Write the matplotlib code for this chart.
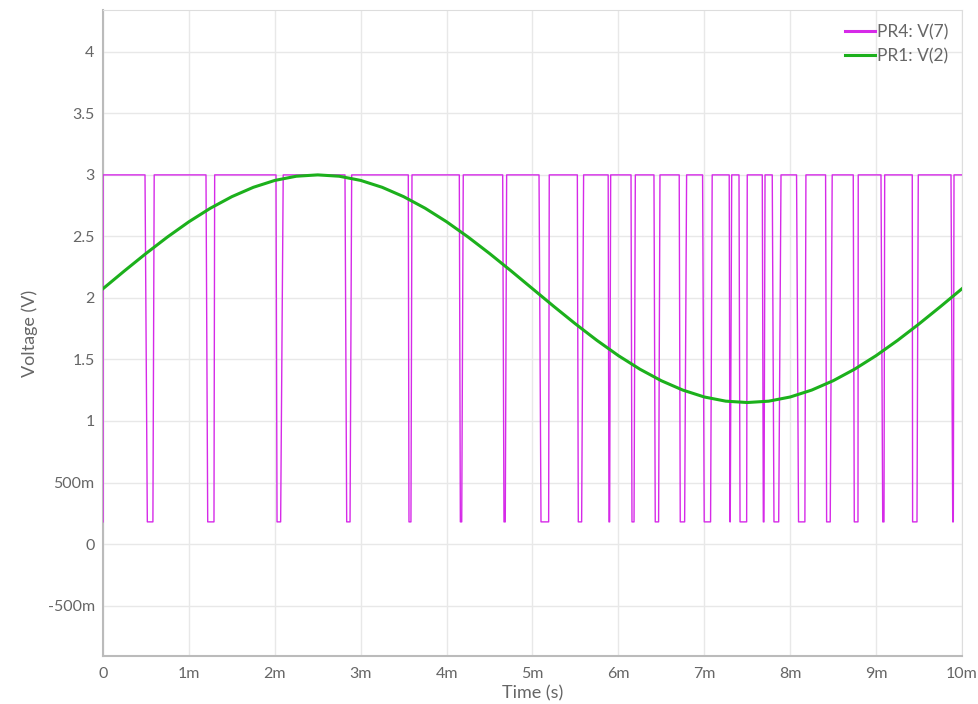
import matplotlib.pyplot as plt
from matplotlib.lines import Line2D

plt.rcParams['font.family'] = ['Lato', 'DejaVu Sans']

# PR4: V(7) pulse train (times in ms)
v_low = 0.18
v_high = 3.0
fall_start = [0.489, 1.199, 2.014, 2.817, 3.554, 4.148, 4.653, 5.076, 5.522, 5.881, 6.147, 6.414,
              6.708, 6.980, 7.290, 7.404, 7.675, 7.791, 8.074, 8.412, 8.734, 9.057, 9.421, 9.872]
low_start = [0.516, 1.219, 2.026, 2.837, 3.562, 4.160, 4.668, 5.099, 5.533, 5.890, 6.158, 6.429,
             6.720, 6.999, 7.299, 7.416, 7.687, 7.811, 8.097, 8.424, 8.746, 9.077, 9.425, 9.892]
low_end = [0.581, 1.292, 2.068, 2.876, 3.585, 4.176, 4.683, 5.188, 5.572, 5.898, 6.182, 6.468,
           6.771, 7.073, 7.302, 7.493, 7.695, 7.866, 8.171, 8.466, 8.789, 9.092, 9.476, 9.899]
rise_end = [0.596, 1.300, 2.098, 2.895, 3.597, 4.194, 4.699, 5.195, 5.595, 5.910, 6.197, 6.484,
            6.794, 7.092, 7.319, 7.500, 7.707, 7.893, 8.183, 8.489, 8.792, 9.100, 9.491, 9.907]
t_end = 10.0

# PR1: V(2) read every 0.25 ms
t_sine = [i * 0.25 for i in range(41)]
v_sine = [2.075, 2.220, 2.361, 2.495, 2.619, 2.729, 2.823, 2.899, 2.955, 2.989, 3.000,
          2.989, 2.955, 2.899, 2.823, 2.729, 2.619, 2.495, 2.361, 2.220, 2.075,
          1.930, 1.789, 1.655, 1.531, 1.421, 1.327, 1.251, 1.195, 1.161, 1.150,
          1.161, 1.195, 1.251, 1.327, 1.421, 1.531, 1.655, 1.789, 1.930, 2.075]

x_ticks = [0, 1, 2, 3, 4, 5, 6, 7, 8, 9, 10]
x_labels = ['0', '1m', '2m', '3m', '4m', '5m', '6m', '7m', '8m', '9m', '10m']
y_ticks = [-0.5, 0, 0.5, 1, 1.5, 2, 2.5, 3, 3.5, 4]
y_labels = ['-500m', '0', '500m', '1', '1.5', '2', '2.5', '3', '3.5', '4']

# build pulse polyline
t_p = [0, 0]
v_p = [v_low, v_high]
for a, b, c, d in zip(fall_start, low_start, low_end, rise_end):
    t_p += [a, b, c, d]
    v_p += [v_high, v_low, v_low, v_high]
t_p.append(t_end)
v_p.append(v_high)

magenta = '#d62ae8'
green = '#1cb01c'
gray = '#666666'

fig = plt.figure(figsize=(9.79, 7.04), dpi=100)
ax = fig.add_axes([103 / 979, (704 - 656) / 704, 859 / 979, 646 / 704])

ax.plot(t_p, v_p, color=magenta, lw=1.0, zorder=3)
ax.plot(t_sine, v_sine, color=green, lw=2.2, zorder=4)

ax.set_xlim(0, 10)
ax.set_ylim(-0.91, 4.34)
ax.set_xticks(x_ticks)
ax.set_xticklabels(x_labels)
ax.set_yticks(y_ticks)
ax.set_yticklabels(y_labels)
ax.tick_params(length=0, labelsize=11.5, labelcolor=gray)
ax.tick_params(axis='x', pad=8)
ax.tick_params(axis='y', pad=6)
ax.grid(True, color='#e8e8e8', lw=1)
ax.set_axisbelow(True)

for s in ['top', 'right']:
    ax.spines[s].set_color('#dddddd')
for s in ['left', 'bottom']:
    ax.spines[s].set_color('#bbbbbb')
    ax.spines[s].set_linewidth(1.5)

ax.set_xlabel('Time (s)', fontsize=13, color=gray, labelpad=3)
ax.set_ylabel('Voltage (V)', fontsize=13, color=gray, labelpad=7)

handles = [Line2D([], [], color=magenta, lw=2.2), Line2D([], [], color=green, lw=2.2)]
ax.legend(handles, ['PR4: V(7)', 'PR1: V(2)'], loc='upper right', frameon=False,
          fontsize=12.5, labelcolor=gray, handlelength=1.7, handletextpad=0.1,
          borderaxespad=0.5, borderpad=0.3, labelspacing=0.45)

fig.savefig('out.png', dpi=100)
